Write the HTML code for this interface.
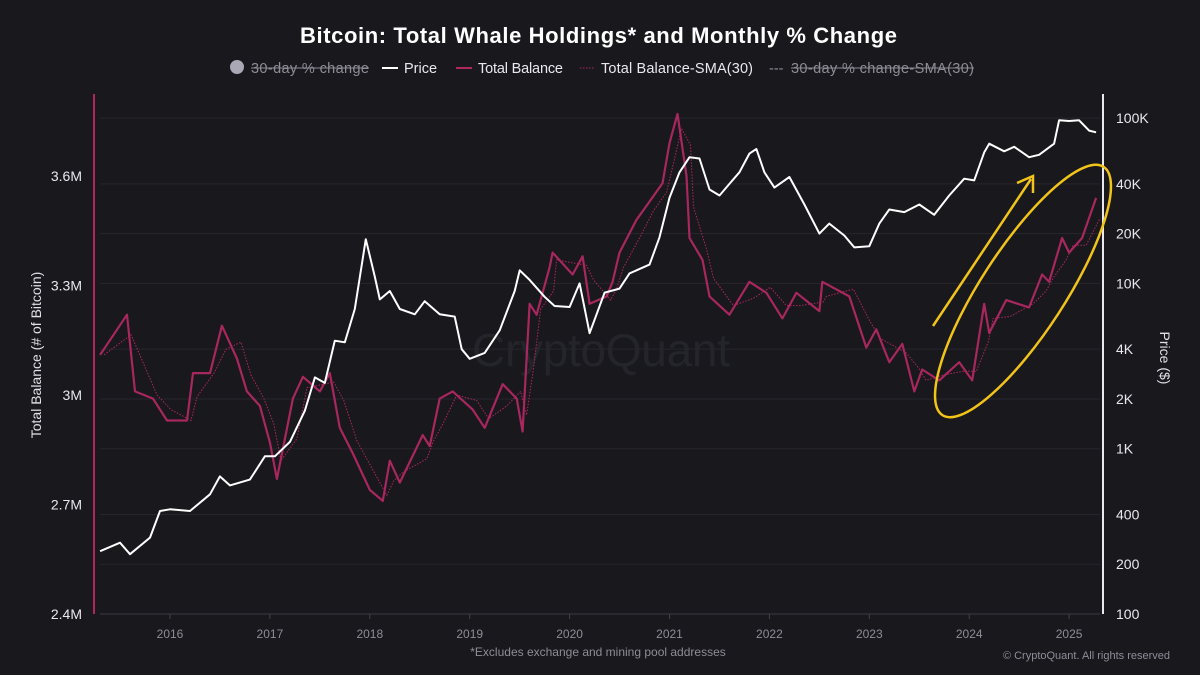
<!DOCTYPE html>
<html><head><meta charset="utf-8">
<style>
body{margin:0;background:#18181d;width:1200px;height:675px;overflow:hidden;font-family:"Liberation Sans",sans-serif}
svg{display:block}
</style></head>
<body>
<svg id="chart" width="1200" height="675" xmlns="http://www.w3.org/2000/svg">
<rect width="1200" height="675" fill="#18181d"/>
<text x="300" y="43" fill="#ffffff" font-size="22" font-weight="bold" textLength="597">Bitcoin: Total Whale Holdings* and Monthly % Change</text>
<g font-size="14.5">
 <g><circle cx="237" cy="67" r="7" fill="#a9a8b4"/><text x="251" y="73" fill="#8e8d97" textLength="118">30-day % change</text><line x1="251" y1="68" x2="369" y2="68" stroke="#8e8d97"/></g>
 <g><line x1="382" y1="68" x2="398" y2="68" stroke="#fff" stroke-width="2"/><text x="404" y="73" fill="#e8e8ee">Price</text></g>
 <g><line x1="456" y1="68" x2="472" y2="68" stroke="#b0275f" stroke-width="2"/><text x="478" y="73" fill="#e8e8ee" textLength="85">Total Balance</text></g>
 <g><line x1="580" y1="68" x2="594" y2="68" stroke="#b0275f" stroke-width="1" stroke-dasharray="1.5,1.5"/><text x="601" y="73" fill="#e8e8ee" textLength="152">Total Balance-SMA(30)</text></g>
 <g><text x="769" y="73" fill="#8e8d97">--- </text><text x="791" y="73" fill="#8e8d97" textLength="183">30-day % change-SMA(30)</text><line x1="791" y1="68" x2="974" y2="68" stroke="#8e8d97"/></g>
</g>
<text x="472" y="366" fill="#24242b" font-size="46" textLength="258">CryptoQuant</text>
<g id="grid"></g>
<g id="axes"></g>
<g id="series"></g>
<g fill="none" stroke="#f2c318" stroke-width="2.5">
 <ellipse cx="1023" cy="291" rx="148" ry="42" transform="rotate(-57 1023 291)"/>
 <line x1="933" y1="326" x2="1031" y2="179"/>
 <polyline points="1017,183 1033,176 1033,193"/>
</g>
<text x="598" y="656" text-anchor="middle" fill="#8e8d97" font-size="12">*Excludes exchange and mining pool addresses</text>
<text x="1170" y="659" text-anchor="end" fill="#8e8d97" font-size="11">© CryptoQuant. All rights reserved</text>
<text transform="translate(41,355) rotate(-90)" text-anchor="middle" fill="#e0e0e6" font-size="14">Total Balance (# of Bitcoin)</text>
<text transform="translate(1160,358) rotate(90)" text-anchor="middle" fill="#e0e0e6" font-size="14">Price ($)</text>
</svg>
<script>
const yearTicks=[2016,2017,2018,2019,2020,2021,2022,2023,2024,2025];
const leftTicks=[2.4,2.7,3.0,3.3,3.6];
const leftTickLabels=["2.4M","2.7M","3M","3.3M","3.6M"];
const rightTicks=[100,200,400,1000,2000,4000,10000,20000,40000,100000];
const rightTickLabels=["100","200","400","1K","2K","4K","10K","20K","40K","100K"];
const balanceT=[2015.3,2015.57,2015.65,2015.83,2015.97,2016.17,2016.23,2016.4,2016.52,2016.67,2016.77,2016.9,2017.0,2017.07,2017.23,2017.33,2017.5,2017.6,2017.7,2017.83,2018.0,2018.13,2018.2,2018.3,2018.53,2018.6,2018.7,2018.83,2019.03,2019.15,2019.33,2019.47,2019.53,2019.6,2019.67,2019.8,2019.83,2020.03,2020.13,2020.2,2020.37,2020.43,2020.5,2020.67,2020.8,2020.93,2021.0,2021.08,2021.17,2021.2,2021.33,2021.4,2021.6,2021.8,2021.97,2022.13,2022.27,2022.5,2022.53,2022.8,2022.97,2023.07,2023.2,2023.33,2023.45,2023.53,2023.7,2023.9,2024.03,2024.15,2024.2,2024.37,2024.6,2024.73,2024.8,2024.93,2025.0,2025.13,2025.27];
const balanceV=[3.11,3.22,3.01,2.99,2.93,2.93,3.06,3.06,3.19,3.10,3.01,2.97,2.87,2.77,2.99,3.05,3.01,3.06,2.91,2.84,2.74,2.71,2.82,2.76,2.89,2.86,2.99,3.01,2.96,2.91,3.03,2.99,2.90,3.25,3.22,3.35,3.39,3.33,3.38,3.25,3.27,3.31,3.39,3.48,3.53,3.58,3.69,3.77,3.60,3.43,3.37,3.27,3.22,3.31,3.28,3.21,3.28,3.23,3.31,3.27,3.13,3.18,3.09,3.14,3.01,3.07,3.04,3.09,3.04,3.25,3.17,3.26,3.24,3.33,3.31,3.43,3.39,3.43,3.54];
const priceT=[2015.3,2015.5,2015.6,2015.8,2015.9,2016.0,2016.2,2016.4,2016.5,2016.6,2016.8,2016.95,2017.05,2017.2,2017.35,2017.45,2017.55,2017.65,2017.75,2017.85,2017.96,2018.05,2018.1,2018.2,2018.3,2018.45,2018.55,2018.7,2018.85,2018.92,2019.0,2019.15,2019.3,2019.45,2019.5,2019.6,2019.75,2019.85,2020.0,2020.1,2020.2,2020.35,2020.5,2020.6,2020.8,2020.9,2021.0,2021.1,2021.2,2021.3,2021.4,2021.5,2021.6,2021.7,2021.8,2021.87,2021.95,2022.05,2022.2,2022.35,2022.5,2022.6,2022.75,2022.85,2023.0,2023.1,2023.2,2023.35,2023.5,2023.65,2023.8,2023.95,2024.05,2024.15,2024.2,2024.35,2024.45,2024.6,2024.7,2024.85,2024.9,2025.0,2025.1,2025.2,2025.27];
const priceV=[240,270,230,290,420,430,420,530,680,600,650,900,900,1100,1700,2700,2500,4500,4400,7000,18500,11000,8000,9000,7000,6500,7800,6500,6300,4000,3500,3800,5200,9000,12000,10500,8300,7300,7200,10000,5000,8800,9300,11500,13000,19000,33000,47000,58000,57000,37000,34000,40000,47000,61000,65000,47000,38000,44000,30000,20000,23000,19500,16500,16800,23000,28000,27000,30000,26000,34000,43000,42000,62000,70000,63000,67000,58000,60000,70000,97000,96000,97000,84000,82000];
const NS='http://www.w3.org/2000/svg';
const X0=94,X1=1100,Y0=614,Y1=118;
const xs=t=>170+(t-2016)*99.9;
const yl=v=>395-(v-3.0)*365;
const yr=p=>614-165.3*Math.log10(p/100);
function mk(tag,attrs,parent){const e=document.createElementNS(NS,tag);for(const k in attrs)e.setAttribute(k,attrs[k]);parent.appendChild(e);return e;}
const grid=document.getElementById('grid'),axes=document.getElementById('axes'),series=document.getElementById('series');
rightTicks.forEach((p,i)=>{
 if(i>0){const g=mk('line',{x1:X0+6,x2:X1,y1:yr(p),y2:yr(p),stroke:'#26262d','stroke-width':1},grid);
 
 }
 const t=mk('text',{x:1116,y:yr(p)+5,fill:'#e8e8ee','font-size':14},axes);t.textContent=rightTickLabels[i];
 
 
});
leftTicks.forEach((v,i)=>{const t=mk('text',{x:82,y:yl(v)+5,fill:'#e8e8ee','font-size':14,'text-anchor':'end'},axes);t.textContent=leftTickLabels[i];
 
 });
yearTicks.forEach(y=>{mk('line',{x1:xs(y),x2:xs(y),y1:Y0,y2:Y0+5,stroke:'#444'},axes);
 const t=mk('text',{x:xs(y),y:638,fill:'#8e8d97','font-size':12,'text-anchor':'middle'},axes);t.textContent=y;
 
 });
const xa=mk('line',{x1:X0+6,x2:X1,y1:Y0,y2:Y0,stroke:'#3a3a42'},axes);


const la=mk('line',{x1:X0,x2:X0,y1:94,y2:Y0,stroke:'#b0275f','stroke-width':2},axes);


const ra=mk('line',{x1:1103,x2:1103,y1:94,y2:Y0,stroke:'#e8e8ee','stroke-width':2},axes);


const sma=balanceV.map((v,i)=>{let s=0,n=0;for(let j=Math.max(0,i-1);j<=i;j++){s+=balanceV[j];n++;}return s/n;});
const pS=mk('path',{d:sma.map((v,i)=>(i?'L':'M')+(xs(balanceT[i])+4).toFixed(1)+','+yl(v).toFixed(1)).join(''),fill:'none',stroke:'#b0275f','stroke-width':1,'stroke-dasharray':'1.5,1.5'},series);


const pB=mk('path',{d:balanceV.map((v,i)=>(i?'L':'M')+xs(balanceT[i]).toFixed(1)+','+yl(v).toFixed(1)).join(''),fill:'none',stroke:'#a8275f','stroke-width':2.2,'stroke-linejoin':'round'},series);


const pP=mk('path',{d:priceV.map((v,i)=>(i?'L':'M')+xs(priceT[i]).toFixed(1)+','+yr(v).toFixed(1)).join(''),fill:'none',stroke:'#ffffff','stroke-width':2,'stroke-linejoin':'round'},series);


</script>
</body></html>
